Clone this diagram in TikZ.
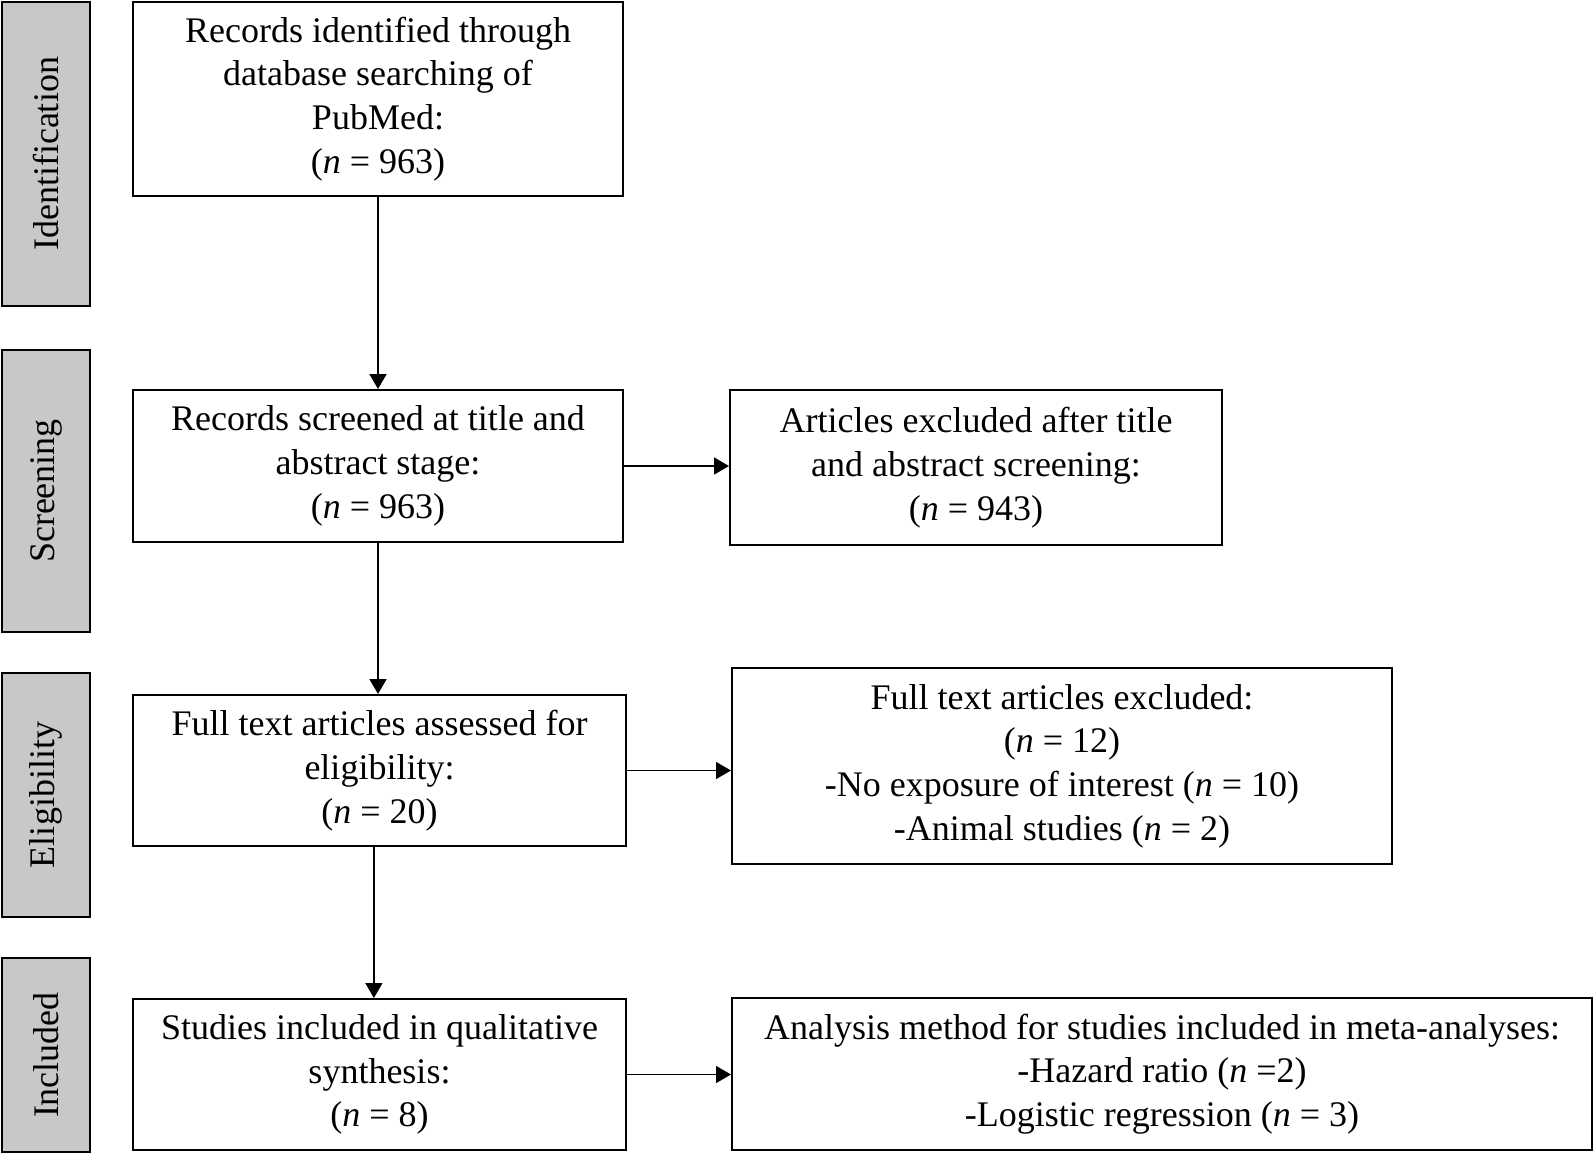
\documentclass[tikz,border=0pt]{standalone}
\usepackage{fontspec}
\setmainfont{Liberation Serif}
\usetikzlibrary{arrows.meta}

\definecolor{phasegray}{HTML}{C8C8C8}

\begin{document}
\begin{tikzpicture}[x=0.5pt,y=-0.5pt,
    font=\fontsize{18}{21.85}\selectfont,
    box/.style={draw,line width=1pt,align=center,inner sep=0pt},
    phase/.style={draw,line width=1pt,fill=phasegray,rotate=90,inner sep=0pt,minimum height=44pt},
    flow/.style={line width=0.8pt,-{Triangle[length=7.5pt,width=8.5pt]}}]
  \useasboundingbox (0,0) rectangle (1594,1155);
  % phases on the left
  \node (ident) [phase,minimum width=152pt] at (46,154) {Identification};
  \node (screen) [phase,minimum width=141pt] at (46,491) {Screening};
  \node (elig) [phase,minimum width=122pt] at (46,795) {Eligibility};
  \node (incl) [phase,minimum width=97pt] at (46,1055) {Included};
  % main column
  \node (rec) [box,minimum width=245pt,minimum height=97pt] at (378,99)
    {Records identified through\\database searching of\\PubMed:\\(\textit{n} = 963)};
  \node (scr) [box,minimum width=245pt,minimum height=76pt] at (378,466)
    {Records screened at title and\\abstract stage:\\(\textit{n} = 963)};
  \node (full) [box,minimum width=246.5pt,minimum height=75.5pt] at (379.5,770.5)
    {Full text articles assessed for\\eligibility:\\(\textit{n} = 20)};
  \node (stud) [box,minimum width=246.5pt,minimum height=75.5pt] at (379.5,1074.5)
    {Studies included in qualitative\\synthesis:\\(\textit{n} = 8)};
  % right column
  \node (excl) [box,minimum width=246pt,minimum height=77.5pt] at (976,467.5)
    {Articles excluded after title\\and abstract screening:\\(\textit{n} = 943)};
  \node (ftex) [box,minimum width=330pt,minimum height=98pt] at (1062,766)
    {Full text articles excluded:\\(\textit{n} = 12)\\-No exposure of interest (\textit{n} = 10)\\-Animal studies (\textit{n} = 2)};
  \node (anal) [box,minimum width=430pt,minimum height=76pt] at (1162,1074)
    {Analysis method for studies included in meta-analyses:\\-Hazard ratio (\textit{n} =2)\\-Logistic regression (\textit{n} = 3)};
  % arrows
  \draw[flow] (rec) -- (scr);
  \draw[flow] (scr) -- (scr |- full.north);
  \draw[flow] ([xshift=-2.8pt]full.south) -- ([xshift=-2.8pt]stud.north);
  \draw[flow] (scr) -- (scr -| excl.west);
  \draw[flow] (full) -- (full -| ftex.west);
  \draw[flow] (stud) -- (stud -| anal.west);
\end{tikzpicture}
\end{document}
